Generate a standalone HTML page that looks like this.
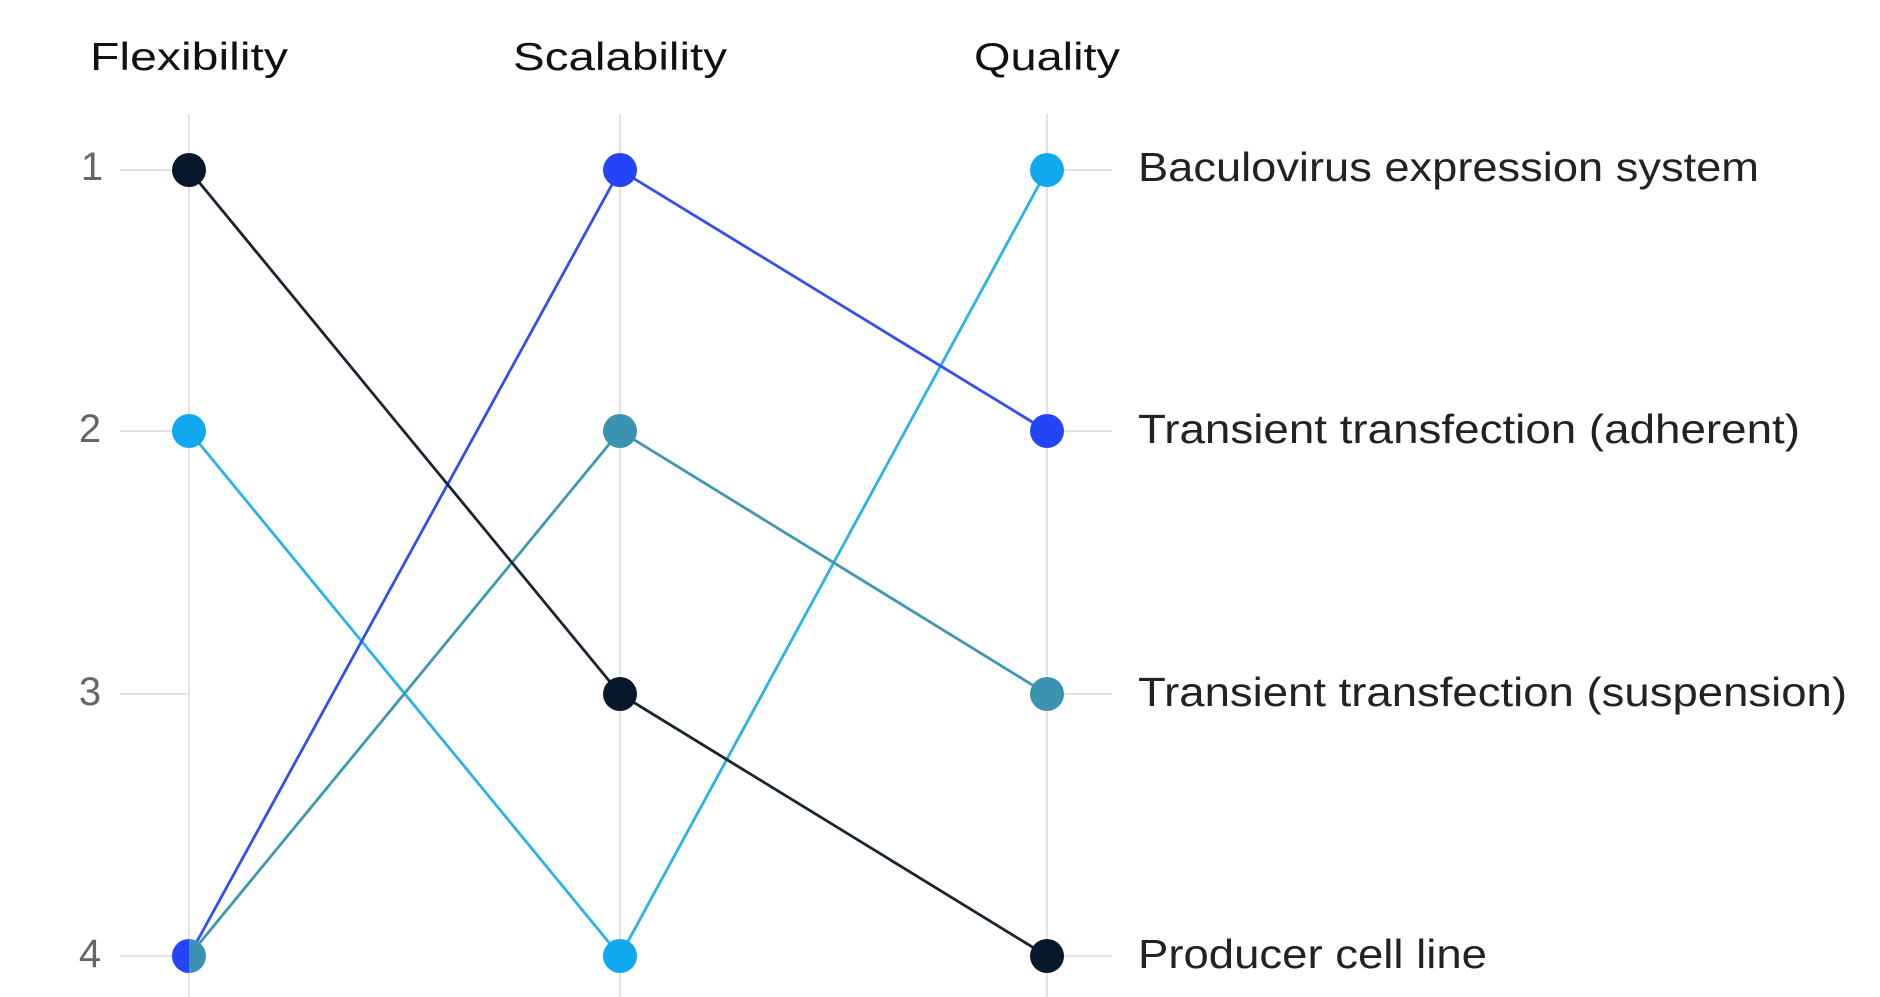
<!DOCTYPE html>
<html><head><meta charset="utf-8"><style>html,body{margin:0;padding:0;background:#fff;}svg{display:block}</style></head>
<body>
<svg width="1880" height="997" viewBox="0 0 1880 997" xmlns="http://www.w3.org/2000/svg" font-family="Liberation Sans, sans-serif">
<rect width="1880" height="997" fill="#fff"/>
<g fill="#111" font-size="39" text-anchor="middle">
<text x="189" y="70" textLength="198" lengthAdjust="spacingAndGlyphs">Flexibility</text>
<text x="620" y="70" textLength="214" lengthAdjust="spacingAndGlyphs">Scalability</text>
<text x="1047" y="70" textLength="146" lengthAdjust="spacingAndGlyphs">Quality</text>
</g>
<g stroke="#e2e2e2" stroke-width="2">
<line x1="189" y1="114" x2="189" y2="997"/>
<line x1="620" y1="114" x2="620" y2="997"/>
<line x1="1047" y1="114" x2="1047" y2="997"/>
<line x1="120" y1="170" x2="189" y2="170"/><line x1="120" y1="431" x2="189" y2="431"/><line x1="120" y1="694" x2="189" y2="694"/><line x1="120" y1="956" x2="189" y2="956"/>
<line x1="1047" y1="170" x2="1112" y2="170"/><line x1="1047" y1="431" x2="1112" y2="431"/><line x1="1047" y1="694" x2="1112" y2="694"/><line x1="1047" y1="956" x2="1112" y2="956"/>
</g>
<g fill="#666" font-size="40" text-anchor="middle">
<text x="92" y="180">1</text><text x="90" y="442">2</text><text x="90" y="705">3</text><text x="90" y="967">4</text>
</g>
<g fill="none" stroke-width="2.8">
<polyline points="189,431 620,956 1047,170" stroke="#29b3e8"/>
<polyline points="189,956 620,170 1047,431" stroke="#3350ee"/>
<polyline points="189,956 620,431 1047,694" stroke="#3e98b3"/>
<polyline points="189,170 620,694 1047,956" stroke="#1a2530"/>
</g>
<g>
<circle cx="189" cy="170" r="17" fill="#06182a"/>
<circle cx="189" cy="431" r="17" fill="#10a9ef"/>
<path d="M189,939 A17,17 0 0 0 189,973 Z" fill="#2345f5"/>
<path d="M189,939 A17,17 0 0 1 189,973 Z" fill="#3a93b0"/>
<circle cx="620" cy="170" r="17" fill="#2345f5"/>
<circle cx="620" cy="431" r="17" fill="#3a93b0"/>
<circle cx="620" cy="694" r="17" fill="#06182a"/>
<circle cx="620" cy="956" r="17" fill="#10a9ef"/>
<circle cx="1047" cy="170" r="17" fill="#10a9ef"/>
<circle cx="1047" cy="431" r="17" fill="#2345f5"/>
<circle cx="1047" cy="694" r="17" fill="#3a93b0"/>
<circle cx="1047" cy="956" r="17" fill="#06182a"/>
</g>
<g fill="#222" font-size="41">
<text x="1138" y="181" textLength="621" lengthAdjust="spacingAndGlyphs">Baculovirus expression system</text>
<text x="1138" y="443" textLength="662" lengthAdjust="spacingAndGlyphs">Transient transfection (adherent)</text>
<text x="1138" y="706" textLength="709" lengthAdjust="spacingAndGlyphs">Transient transfection (suspension)</text>
<text x="1138" y="968" textLength="349" lengthAdjust="spacingAndGlyphs">Producer cell line</text>
</g>
</svg>
</body></html>
